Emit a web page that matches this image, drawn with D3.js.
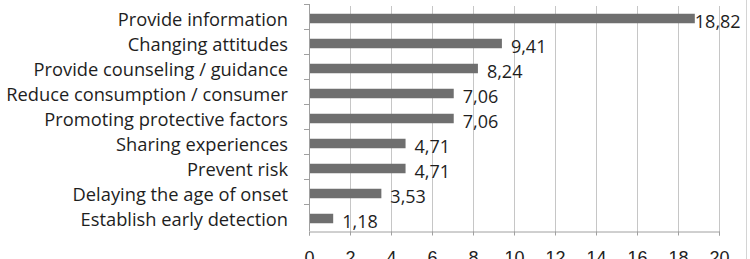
<!DOCTYPE html>
<html>
<head>
<meta charset="utf-8">
<script src="https://cdn.jsdelivr.net/npm/d3@7"></script>
<style>
  body { margin: 0; background: #fff; }
  svg { display: block; font-family: "Open Sans", sans-serif; }
</style>
</head>
<body>
<div id="graph"></div>
<script>
var categories = [
  "Provide information",
  "Changing attitudes",
  "Provide counseling / guidance",
  "Reduce consumption / consumer",
  "Promoting protective factors",
  "Sharing experiences",
  "Prevent risk",
  "Delaying the age of onset",
  "Establish early detection"
];
var values = [18.82, 9.41, 8.24, 7.06, 7.06, 4.71, 4.71, 3.53, 1.18];
var xTicks = [0, 2, 4, 6, 8, 10, 12, 14, 16, 18, 20];

var width = 750;
var height = 259;
var margin = { top: 6, right: 31, bottom: 28, left: 309 };

var svg = d3.select("#graph")
  .append("svg")
  .attr("width", width)
  .attr("height", height);

var xScale = d3.scaleLinear().domain([0, 20]).range([margin.left, width - margin.right]);
var yScale = d3.scaleBand().domain(categories).range([margin.top, height - margin.bottom]).paddingInner(0.62).paddingOuter(0.31);
var band = d3.scaleBand().domain(categories).range([margin.top, height - margin.bottom]);

// right border of the chart area
svg.append("line")
  .attr("x1", 746.5).attr("x2", 746.5)
  .attr("y1", 0).attr("y2", height)
  .attr("stroke", "#d4d4d4");

// grid lines
svg.append("g")
  .selectAll("line")
  .data(xTicks.slice(1))
  .enter()
  .append("line")
  .attr("x1", function (d) { return Math.round(xScale(d)) + 0.5; })
  .attr("x2", function (d) { return Math.round(xScale(d)) + 0.5; })
  .attr("y1", margin.top)
  .attr("y2", height - margin.bottom + 4)
  .attr("stroke", "#c6c6c6");

// x axis (labels are cropped by the bottom edge, as in the original)
var xAxis = svg.append("g")
  .attr("transform", "translate(0," + (height - margin.bottom + 0.5) + ")")
  .call(d3.axisBottom(xScale).tickValues(xTicks).tickSize(4).tickPadding(16).tickFormat(d3.format("d")));
xAxis.select(".domain").attr("stroke", "#a0a0a0");
xAxis.selectAll(".tick line").attr("stroke", "#a0a0a0");
xAxis.selectAll(".tick text").attr("font-size", "18px").attr("fill", "#222");

// y axis with ticks at band edges
var yg = svg.append("g");
yg.append("line")
  .attr("x1", margin.left + 0.5).attr("x2", margin.left + 0.5)
  .attr("y1", margin.top - 2).attr("y2", height - margin.bottom)
  .attr("stroke", "#a0a0a0");
yg.selectAll(".ytick")
  .data(categories)
  .enter()
  .append("line")
  .attr("class", "ytick")
  .attr("x1", margin.left - 5).attr("x2", margin.left)
  .attr("y1", function (d) { return Math.round(band(d)) - 1.5; })
  .attr("y2", function (d) { return Math.round(band(d)) - 1.5; })
  .attr("stroke", "#a0a0a0");

// category labels
svg.append("g")
  .selectAll("text")
  .data(categories)
  .enter()
  .append("text")
  .attr("x", margin.left - 21)
  .attr("y", function (d) { return band(d) + band.bandwidth() / 2 + 1; })
  .attr("dy", "0.35em")
  .attr("text-anchor", "end")
  .attr("font-size", "18.3px")
  .attr("fill", "#1e1e1e")
  .text(function (d) { return d; });

// bars
svg.append("g")
  .selectAll("rect")
  .data(values)
  .enter()
  .append("rect")
  .attr("x", xScale(0) + 1)
  .attr("y", function (d, i) { return yScale(categories[i]); })
  .attr("width", function (d) { return xScale(d) - xScale(0) - 1; })
  .attr("height", yScale.bandwidth())
  .attr("fill", "#6f6f6f");

// value labels
svg.append("g")
  .selectAll("text")
  .data(values)
  .enter()
  .append("text")
  .attr("x", function (d) { return xScale(d) + (d > 15 ? 0 : 9); })
  .attr("y", function (d, i) { return band(categories[i]) + band.bandwidth() / 2 + 3; })
  .attr("dy", "0.35em")
  .attr("font-size", "18px")
  .attr("fill", "#1e1e1e")
  .text(function (d) { return d3.format(".2f")(d).replace(".", ","); });
</script>
</body>
</html>
